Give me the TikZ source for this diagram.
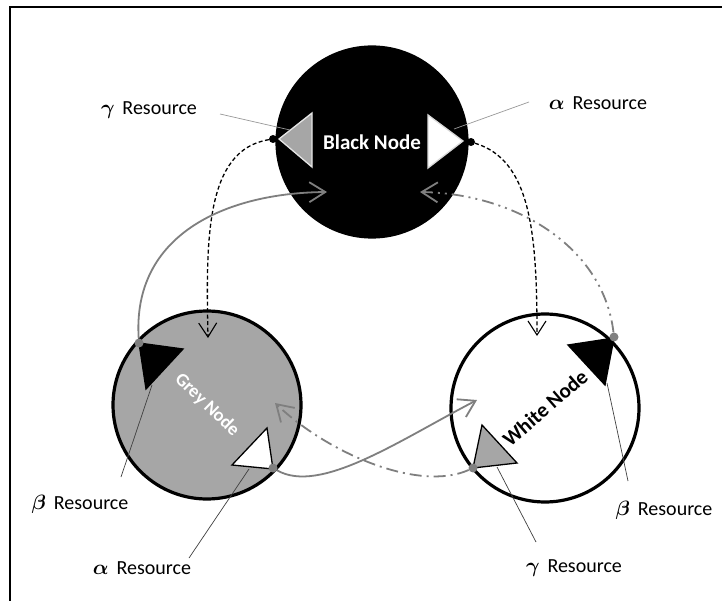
\documentclass[tikz,border=0pt]{standalone}
\usepackage{fontspec}
\setmainfont{Carlito}
\usepackage{bm}
\usetikzlibrary{arrows.meta}
\definecolor{nodegrey}{HTML}{A6A6A6}
\definecolor{dotgrey}{HTML}{808080}
\definecolor{flowgrey}{HTML}{7F7F7F}
\begin{document}
\begin{tikzpicture}[x=1pt,y=-1pt,
  nodecirc/.style={circle, draw=black, line width=3.2pt, minimum size=190pt, inner sep=0pt,
    font=\fontsize{21}{24}\selectfont\bfseries},
  res/.style={font=\fontsize{20}{23}\selectfont, inner sep=1pt},
  bdot/.style={circle, fill=black, inner sep=0pt, minimum size=8pt},
  gdot/.style={circle, fill=dotgrey, inner sep=0pt, minimum size=9pt},
  tri/.style={line width=1.3pt, line join=miter},
  leadlight/.style={draw=black!40, line width=0.7pt},
  leaddark/.style={draw=black!75, line width=0.7pt},
  tipblack/.style={-{Straight Barb[length=14pt,width=18pt,line width=1.1pt]}},
  tipgrey/.style={-{Straight Barb[length=16pt,width=20pt,line width=1.8pt]}},
  dashflow/.style={draw=black, line width=1.3pt, dash pattern=on 4pt off 2.5pt, tipblack},
  greyflow/.style={draw=flowgrey, line width=1.8pt, tipgrey},
  dotdashflow/.style={draw=flowgrey, line width=1.8pt, dash pattern=on 12pt off 5pt on 2pt off 5pt on 2pt off 5pt, tipgrey},
  dashdotflow/.style={draw=flowgrey, line width=1.8pt, dash pattern=on 12pt off 5pt on 2pt off 5pt, tipgrey}
]
\useasboundingbox (0,0) rectangle (722,601);
\fill[white] (0,0) rectangle (722,601);
% frame
\draw[line width=1.5pt] (10,601) -- (10,7) -- (722,7);

% main nodes
\node[nodecirc, fill=black, text=white] (black) at (372,142) {Black Node};
\node[nodecirc, fill=nodegrey, text=white, minimum size=188pt, font=\fontsize{18.5}{21}\selectfont\bfseries, rotate=-44] (grey) at (207,405) {Grey Node};
\node[nodecirc, fill=white, text=black, minimum size=188pt, font=\fontsize{21}{24}\selectfont\bfseries, rotate=41] (white) at (545,408) {White Node};

% triangles on black node
\filldraw[tri, fill=nodegrey, draw=white!90!black] (279,139) -- (312,113) -- (312,167) -- cycle;
\filldraw[tri, fill=white, draw=black!15] (428,115) -- (463,141) -- (428,168) -- cycle;
% triangles on grey node
\filldraw[tri, fill=black, draw=black] (139,343) -- (183,349) -- (146,389) -- cycle;
\filldraw[tri, fill=white, draw=black] (273,469) -- (232,465) -- (267,428) -- cycle;
% triangles on white node
\filldraw[tri, fill=black, draw=black] (614,338) -- (568,345) -- (605,385) -- cycle;
\filldraw[tri, fill=nodegrey, draw=black] (473,468) -- (482,425) -- (517,463) -- cycle;

% resource dots
\node[bdot] (bg) at (273,139) {};
\node[bdot] (ba) at (471,142) {};
\node[gdot] (gb) at (139,343) {};
\node[gdot] (ga) at (273,468) {};
\node[gdot] (wb) at (614,337) {};
\node[gdot] (wg) at (473,468) {};

% arrow targets
\coordinate (tg) at (208,338);
\coordinate (tw) at (537,336);
\coordinate (tb1) at (327,192);
\coordinate (tb2) at (420,192);
\coordinate (tw2) at (477,400);
\coordinate (tg2) at (275,403);

% connectors
\draw[dashflow] (bg) .. controls (205,150) and (206,240) .. (tg);
\draw[dashflow] (ba) .. controls (530,160) and (537,230) .. (tw);
\draw[greyflow] (gb) .. controls (132,235) and (225,193) .. (tb1);
\draw[dotdashflow] (wb) .. controls (604,250) and (520,194) .. (tb2);
\draw[greyflow] (ga) .. controls (320,495) and (400,440) .. (tw2);
\draw[dashdotflow] (wg) .. controls (420,492) and (330,455) .. (tg2);

% labels
\node[res] (lg1) at (149,110) {$\bm{\gamma}$\, Resource};
\node[res] (la1) at (598,103) {$\bm{\alpha}$\, Resource};
\node[res] (lb1) at (80,504) {$\bm{\beta}$\, Resource};
\node[res] (la2) at (142,568) {$\bm{\alpha}$\, Resource};
\node[res] (lb2) at (664,510) {$\bm{\beta}$\, Resource};
\node[res] (lg2) at (574,568) {$\bm{\gamma}$\, Resource};

% leader line ends
\coordinate (eg1) at (220,114);  \coordinate (pg1) at (290,130);
\coordinate (ea1) at (529,102);  \coordinate (pa1) at (454,129);
\coordinate (eb1) at (121,477);  \coordinate (pb1) at (152,385);
\coordinate (ea2) at (189,558);  \coordinate (pa2) at (249,469);
\coordinate (eb2) at (628,481);  \coordinate (pb2) at (607,383);
\coordinate (eg2) at (536,542);  \coordinate (pg2) at (497,467);

\draw[leadlight] (eg1) -- (pg1);
\draw[leadlight] (ea1) -- (pa1);
\draw[leaddark] (eb1) -- (pb1);
\draw[leaddark] (ea2) -- (pa2);
\draw[leaddark] (eb2) -- (pb2);
\draw[leaddark] (eg2) -- (pg2);
\end{tikzpicture}
\end{document}
